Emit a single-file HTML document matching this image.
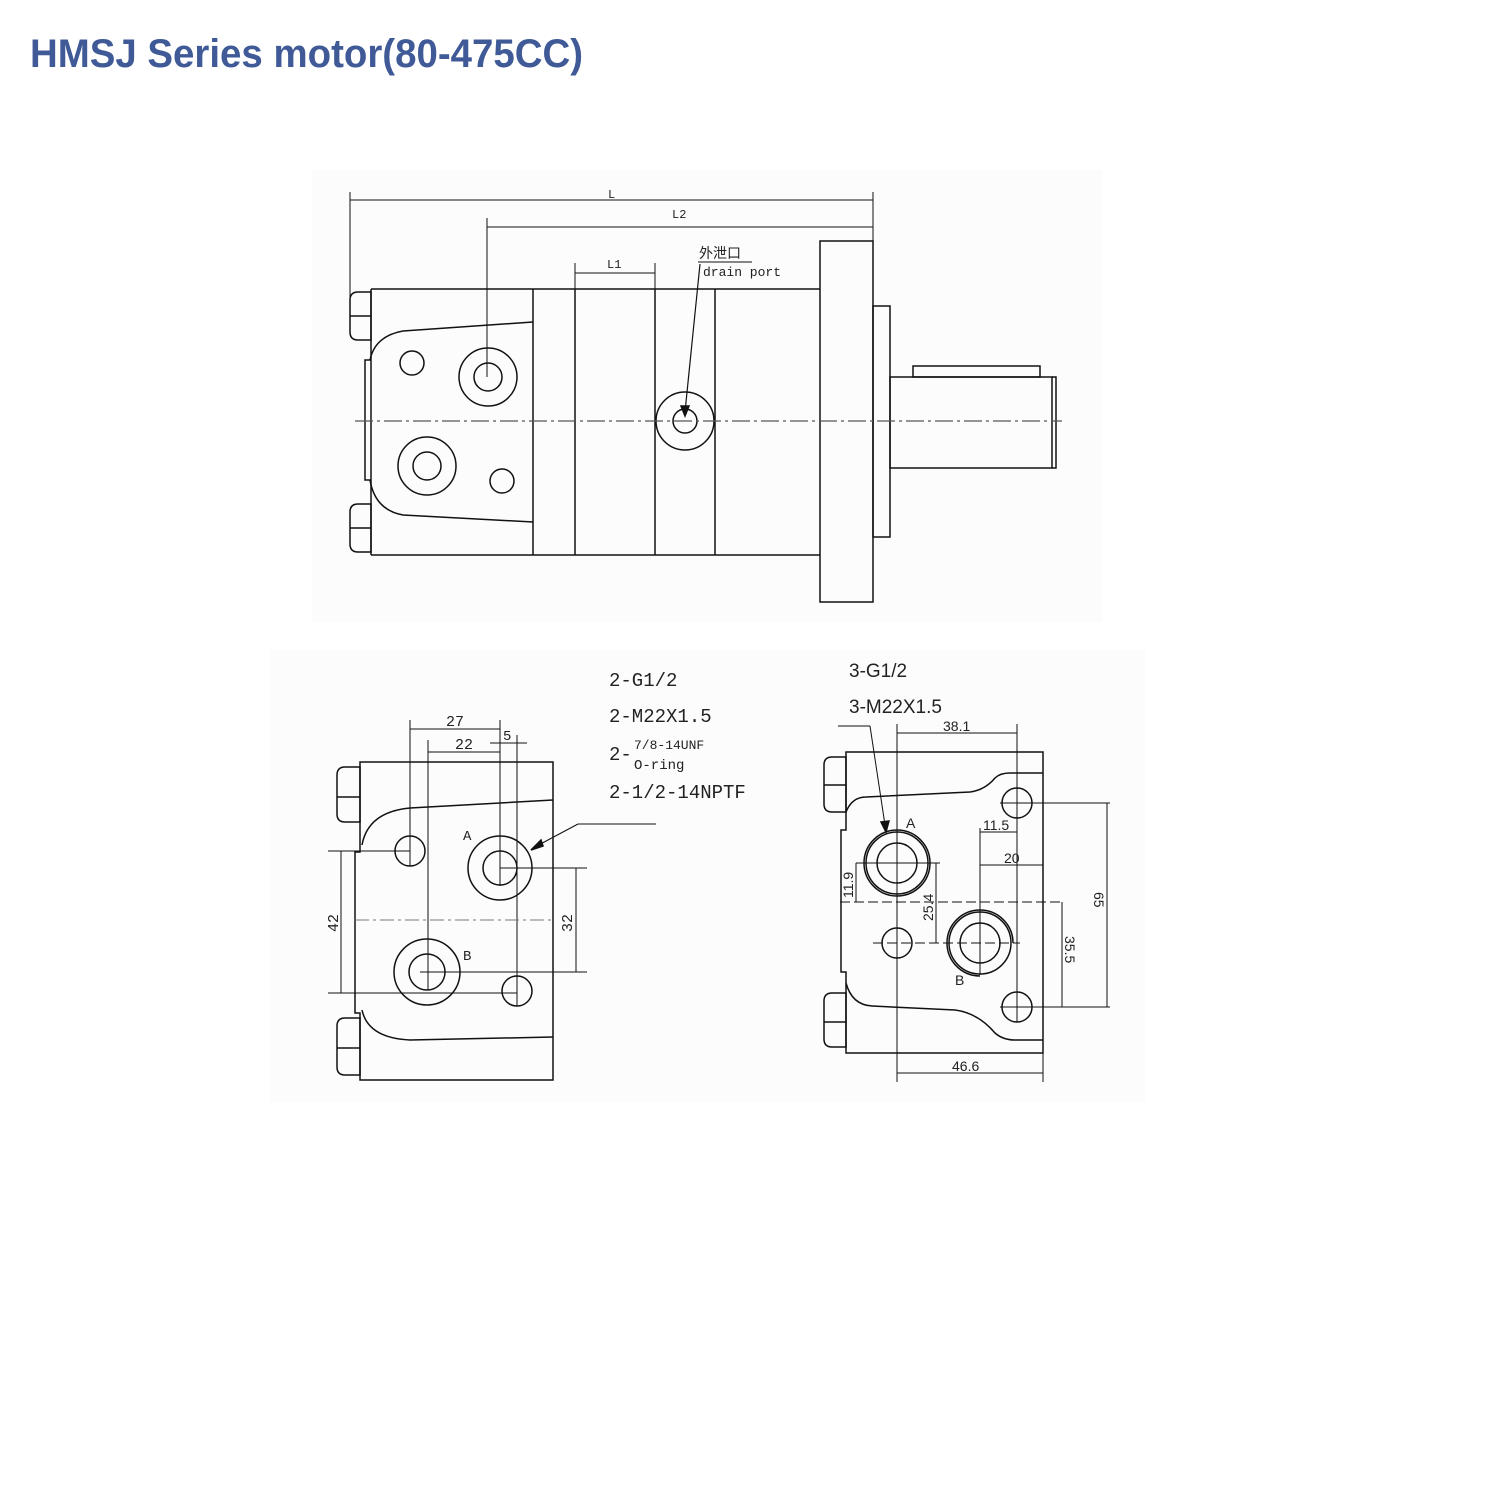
<!DOCTYPE html>
<html><head><meta charset="utf-8"><style>
html,body{margin:0;padding:0;background:#fff;width:1500px;height:1500px;overflow:hidden}
svg{display:block}
text{font-family:"Liberation Sans","Noto Sans CJK SC",sans-serif;fill:#222}
.m text{font-family:"Liberation Mono","Noto Sans CJK SC",monospace}
</style></head><body>
<svg width="1500" height="1500" viewBox="0 0 1500 1500" xmlns="http://www.w3.org/2000/svg">
<rect x="312" y="170" width="790" height="452" fill="#fcfcfc"/>
<rect x="270" y="650" width="875" height="452" fill="#fcfcfc"/>
<text x="30" y="67" font-size="40" font-weight="bold" style="fill:#3f5a97" textLength="553" lengthAdjust="spacingAndGlyphs">HMSJ Series motor(80-475CC)</text>

<g fill="none" stroke="#111" stroke-width="1.5">
<line x1="350" y1="192" x2="350" y2="300" stroke-width="1"/>
<line x1="873" y1="192" x2="873" y2="241" stroke-width="1"/>
<line x1="350" y1="200" x2="873" y2="200" stroke-width="1"/>
<line x1="487" y1="218" x2="487" y2="377" stroke-width="1"/>
<line x1="487" y1="227" x2="873" y2="227" stroke-width="1"/>
<line x1="575" y1="263" x2="575" y2="289" stroke-width="1"/>
<line x1="655" y1="263" x2="655" y2="289" stroke-width="1"/>
<line x1="575" y1="273" x2="655" y2="273" stroke-width="1"/>
<line x1="698" y1="262" x2="752" y2="262" stroke-width="1"/>
<line x1="700" y1="264" x2="685" y2="412" stroke-width="1.2"/>
<path d="M681 406 L685 416 L689 406 Z" fill="#111"/>
<path d="M371 289 H820 M371 555 H820 M371 289 V555"/>
<path d="M533 289 V555 M575 289 V555 M655 289 V555 M715 289 V555"/>
<rect x="820" y="241" width="53" height="361"/>
<rect x="873" y="306" width="17" height="231"/>
<rect x="890" y="377" width="162" height="91"/>
<path d="M1052 377 h4 v91 h-4"/>
<rect x="913" y="366" width="127" height="11"/>
<path d="M350 300 q0-8 8-8 h13 v48 h-13 q-8 0-8-8 Z M350 316 h21"/>
<path d="M350 512 q0-8 8-8 h13 v48 h-13 q-8 0-8-8 Z M350 528 h21"/>
<path d="M533 322 L403 331 Q375 336 370 360 H365 V480 H370 Q375 510 403 515 L533 522"/>
<circle cx="412" cy="363" r="12"/>
<circle cx="488" cy="377" r="29"/><circle cx="488" cy="377" r="14"/>
<circle cx="427" cy="466" r="29"/><circle cx="427" cy="466" r="14"/>
<circle cx="502" cy="481" r="12"/>
<circle cx="685" cy="421" r="29"/><circle cx="685" cy="421" r="12"/>
<line x1="355" y1="421" x2="1062" y2="421" stroke="#555" stroke-width="1.2" stroke-dasharray="18,4,3,4"/>

<path d="M360 762 H553 V1080 H360 V1013 H355 V852 H360 Z"/>
<path d="M337 775 q0-8 8-8 h15 v55 h-15 q-8 0-8-8 Z M337 797 h23"/>
<path d="M337 1026 q0-8 8-8 h15 v57 h-15 q-8 0-8-8 Z M337 1048 h23"/>
<path d="M553 800 L410 808 Q368 812 362 845"/>
<path d="M362 1010 Q368 1038 410 1040 L553 1037"/>
<circle cx="410" cy="851" r="15"/>
<circle cx="500" cy="868" r="32"/><circle cx="500" cy="868" r="17"/>
<circle cx="427" cy="972" r="33"/><circle cx="427" cy="972" r="18"/>
<circle cx="517" cy="991" r="15"/>
<g stroke-width="1">
<line x1="410" y1="720" x2="410" y2="866"/>
<line x1="428" y1="740" x2="428" y2="990"/>
<line x1="500" y1="720" x2="500" y2="886"/>
<line x1="517" y1="735" x2="517" y2="1006"/>
<line x1="410" y1="729" x2="500" y2="729"/>
<line x1="428" y1="752" x2="500" y2="752"/>
<line x1="490" y1="743" x2="527" y2="743"/>
<line x1="328" y1="851" x2="410" y2="851"/>
<line x1="328" y1="993" x2="517" y2="993"/>
<line x1="341" y1="851" x2="341" y2="993"/>
<line x1="500" y1="868" x2="587" y2="868"/>
<line x1="420" y1="972" x2="587" y2="972"/>
<line x1="576" y1="868" x2="576" y2="972"/>
<line x1="355" y1="920" x2="553" y2="920" stroke="#777" stroke-dasharray="14,4,3,4"/>
<line x1="656" y1="824" x2="578" y2="824"/>
<line x1="578" y1="824" x2="533" y2="848"/>
</g>
<path d="M531 850 L541 840 L543 846 Z" fill="#111"/>

<path d="M846 752 H1043 V1053 H846 V972 H841 V830 H846 Z"/>
<path d="M824 765 q0-8 8-8 h14 v55 h-14 q-8 0-8-8 Z M824 785 h22"/>
<path d="M824 1001 q0-8 8-8 h14 v54 h-14 q-8 0-8-8 Z M824 1022 h22"/>
<path d="M846 812 Q852 797 866 797 L970 792 Q985 790 995 778 Q1000 773 1010 773 H1043"/>
<path d="M846 983 Q852 1005 872 1006 L955 1010 Q978 1013 995 1033 Q1003 1040 1015 1040 H1043"/>
<circle cx="897" cy="863" r="33"/><circle cx="897" cy="863" r="31"/><circle cx="897" cy="863" r="20"/>
<path d="M980 976 A33 33 0 1 1 1013 943" /><circle cx="980" cy="943" r="31"/><circle cx="980" cy="943" r="20"/>
<circle cx="1017" cy="803" r="15"/>
<circle cx="897" cy="943" r="15"/>
<circle cx="1017" cy="1007" r="15"/>
<g stroke-width="1">
<line x1="897" y1="724" x2="897" y2="1082"/>
<line x1="1017" y1="724" x2="1017" y2="1022"/>
<line x1="897" y1="733" x2="1017" y2="733"/>
<line x1="980" y1="828" x2="980" y2="975"/>
<line x1="980" y1="832" x2="1017" y2="832"/>
<line x1="980" y1="865" x2="1043" y2="865"/>
<line x1="856" y1="863" x2="856" y2="902"/>
<line x1="856" y1="863" x2="940" y2="863"/>
<line x1="840" y1="902" x2="1063" y2="902" stroke-dasharray="10,4"/>
<line x1="873" y1="943" x2="1020" y2="943" stroke-dasharray="10,4"/>
<line x1="936" y1="863" x2="936" y2="943"/>
<line x1="1000" y1="803" x2="1110" y2="803"/>
<line x1="1000" y1="1007" x2="1110" y2="1007"/>
<line x1="1107" y1="803" x2="1107" y2="1007"/>
<line x1="1062" y1="902" x2="1062" y2="1007"/>
<line x1="1043" y1="1053" x2="1043" y2="1082"/>
<line x1="897" y1="1073" x2="1043" y2="1073"/>
<line x1="838" y1="726" x2="870" y2="726"/>
<line x1="870" y1="726" x2="885" y2="825"/>
</g>
<path d="M881 822 L886 832 L889 821 Z" fill="#111"/>
</g>

<g class="m">
<text x="608" y="198" font-size="12">L</text>
<text x="672" y="218" font-size="12">L2</text>
<text x="607" y="268" font-size="12">L1</text>
<text x="699" y="258" font-size="14">外泄口</text>
<text x="703" y="276" font-size="13">drain port</text>
<text x="446" y="726" font-size="15">27</text>
<text x="455" y="749" font-size="15">22</text>
<text x="503" y="740" font-size="14">5</text>
<text x="463" y="840" font-size="14">A</text>
<text x="463" y="960" font-size="14">B</text>
<text transform="translate(338,932) rotate(-90)" font-size="15">42</text>
<text transform="translate(572,932) rotate(-90)" font-size="15">32</text>
<text x="609" y="686" font-size="19">2-G1/2</text>
<text x="609" y="722" font-size="19">2-M22X1.5</text>
<text x="609" y="760" font-size="19">2-</text>
<text x="634" y="749" font-size="13">7/8-14UNF</text>
<text x="634" y="769" font-size="14">O-ring</text>
<text x="609" y="798" font-size="19">2-1/2-14NPTF</text>
</g>
<g font-size="15">
<text x="849" y="677" font-size="19">3-G1/2</text>
<text x="849" y="713" font-size="19">3-M22X1.5</text>
<text x="943" y="731" font-size="14">38.1</text>
<text x="983" y="830" font-size="14">11.5</text>
<text x="1004" y="863" font-size="14">20</text>
<text x="906" y="828" font-size="14">A</text>
<text x="955" y="985" font-size="14">B</text>
<text transform="translate(853,898) rotate(-90)" font-size="14">11.9</text>
<text transform="translate(933,921) rotate(-90)" font-size="14">25.4</text>
<text transform="translate(1094,892) rotate(90)" font-size="14">65</text>
<text transform="translate(1065,936) rotate(90)" font-size="14">35.5</text>
<text x="952" y="1071" font-size="14">46.6</text>
</g>
</svg>
</body></html>
